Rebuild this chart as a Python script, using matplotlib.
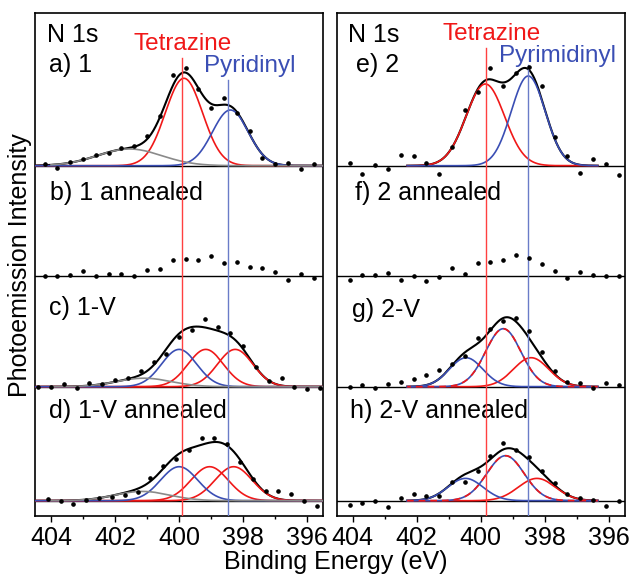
import numpy as np
import matplotlib.pyplot as plt

plt.rcParams['font.family'] = ['Liberation Sans', 'DejaVu Sans']

# binding energy grids of the measured points (eV)
be_ab = [404.2, 403.8, 403.4, 403.0, 402.6, 402.2, 401.8, 401.4, 401.0, 400.6, 400.2,
         399.8, 399.4, 399.0, 398.6, 398.2, 397.8, 397.4, 397.0, 396.6, 396.2, 395.8]
be_c = [404.4, 404.0, 403.6, 403.2, 402.8, 402.4, 402.0, 401.6, 401.2, 400.8, 400.4, 400.0,
        399.6, 399.2, 398.8, 398.4, 398.0, 397.6, 397.2, 396.8, 396.4, 396.0, 395.6]
be_rest = [404.1, 403.7, 403.3, 402.9, 402.5, 402.1, 401.7, 401.3, 400.9, 400.5, 400.1,
           399.7, 399.3, 398.9, 398.5, 398.1, 397.7, 397.3, 396.9, 396.5, 396.1, 395.7]

# measured intensities (arb. units, baseline subtracted)
int_a = [0.017, -0.02, 0.033, 0.067, 0.103, 0.13, 0.18, 0.197, 0.30, 0.50, 0.907,
         0.973, 0.77, 0.573, 0.68, 0.53, 0.347, 0.073, 0.02, 0.023, -0.037, 0.017]
int_b = [0.0, -0.007, 0.007, 0.05, -0.007, 0.013, 0.013, -0.007, 0.06, 0.067, 0.16,
         0.167, 0.16, 0.197, 0.123, 0.14, 0.083, 0.073, 0.033, -0.04, 0.013, -0.027]
int_c = [0.0, 0.0, 0.023, -0.01, 0.04, 0.023, 0.067, 0.09, 0.157, 0.25, 0.323, 0.5,
         0.567, 0.68, 0.6, 0.54, 0.41, 0.2, 0.06, 0.087, 0.0, -0.02, -0.01]
int_d = [0.02, -0.005, -0.037, 0.01, 0.03, 0.033, 0.053, 0.09, 0.228, 0.35, 0.42,
         0.51, 0.63, 0.63, 0.57, 0.39, 0.217, 0.093, 0.1, 0.067, 0.0, -0.05]
int_e = [0.03, -0.083, 0.007, -0.033, 0.107, 0.093, 0.023, -0.083, 0.19, 0.557, 0.733,
         0.973, 0.797, 0.93, 0.99, 0.8, 0.29, 0.097, -0.077, 0.07, 0.017, -0.093]
int_f = [-0.04, 0.003, 0.003, 0.03, -0.047, -0.007, -0.053, -0.013, 0.08, 0.02, 0.127,
         0.133, 0.153, 0.203, 0.18, 0.12, 0.043, -0.023, 0.037, 0.01, 0.0, 0.0]
int_g = [-0.005, 0.015, -0.01, 0.03, 0.048, 0.073, 0.113, 0.165, 0.23, 0.31, 0.485,
         0.58, 0.657, 0.69, 0.557, 0.347, 0.157, 0.047, 0.033, -0.01, 0.04, 0.017]
int_h = [-0.04, -0.027, -0.007, -0.067, 0.023, 0.067, 0.05, 0.043, 0.183, 0.183, 0.3,
         0.443, 0.573, 0.507, 0.433, 0.293, 0.18, 0.067, 0.027, 0.01, -0.057, 0.0]

# fitted components: (centre eV, height, sigma eV)
peaks_a = [(399.85, 0.874, 0.58), (398.4, 0.557, 0.56), (401.55, 0.167, 1.0)]
kinds_a = ['tz', 'py', 'other']
peaks_c = [(399.17, 0.373, 0.55), (398.25, 0.373, 0.55), (400.0, 0.373, 0.55), (401.1, 0.085, 0.85)]
kinds_c = ['tz', 'tz', 'py', 'other']
peaks_d = [(399.05, 0.34, 0.58), (398.3, 0.34, 0.58), (400.0, 0.34, 0.58), (401.15, 0.093, 0.85)]
kinds_d = ['tz', 'tz', 'py', 'other']
peaks_e = [(399.86, 0.817, 0.6), (398.52, 0.897, 0.53)]
kinds_e = ['tz', 'py']
peaks_g = [(398.43, 0.29, 0.55), (400.46, 0.29, 0.52), (399.3, 0.58, 0.55)]
kinds_g = ['tz', 'py', 'both']
peaks_h = [(398.25, 0.223, 0.58), (400.48, 0.223, 0.55), (399.23, 0.45, 0.58)]
kinds_h = ['tz', 'py', 'both']

# energy window of the fits
fit_left = (395.3, 404.7)
fit_right = (396.35, 402.3)
gray_left = (395.3, 404.0)

offsets = [3.35, 2.25, 1.14, 0.0]

RED = '#f01818'
BLUE = '#3a4eb4'
GRAY = '#8a8a8a'


def gauss(x, c, h, s):
    return h * np.exp(-(x - c) ** 2 / (2 * s * s))


def draw_panel(ax, off, be, inten, peaks=None, kinds=None, window=None):
    ax.axhline(off, color='k', lw=1.0, zorder=1)
    if peaks:
        xf = np.linspace(window[0], window[1], 700)
        total = np.zeros_like(xf)
        for (c, h, s) in peaks:
            total += gauss(xf, c, h, s)
        ax.plot(xf, total + off, color='k', lw=1.5, zorder=2)
        for (c, h, s), k in zip(peaks, kinds):
            y = gauss(xf, c, h, s) + off
            if k == 'other':
                xg = np.linspace(gray_left[0], gray_left[1], 700)
                ax.plot(xg, gauss(xg, c, h, s) + off, color=GRAY, lw=1.2, zorder=3)
            elif k == 'tz':
                ax.plot(xf, y, color=RED, lw=1.2, zorder=3)
            elif k == 'py':
                ax.plot(xf, y, color=BLUE, lw=1.2, zorder=3)
            else:
                ax.plot(xf, y, color=BLUE, lw=1.2, zorder=3)
                ax.plot(xf, y, color=RED, lw=1.2, zorder=3, dashes=(4, 3))
    ax.plot(be, np.array(inten) + off, 'o', color='k', ms=2.3, zorder=5)


fig = plt.figure(figsize=(6.29, 5.75), dpi=100)
axL = fig.add_axes([35 / 629, 59 / 575, 288.3 / 629, 503.3 / 575])
axR = fig.add_axes([336.7 / 629, 59 / 575, 288.3 / 629, 503.3 / 575])

draw_panel(axL, offsets[0], be_ab, int_a, peaks_a, kinds_a, fit_left)
draw_panel(axL, offsets[1], be_ab, int_b)
draw_panel(axL, offsets[2], be_c, int_c, peaks_c, kinds_c, fit_left)
draw_panel(axL, offsets[3], be_rest, int_d, peaks_d, kinds_d, fit_left)

draw_panel(axR, offsets[0], be_rest, int_e, peaks_e, kinds_e, fit_right)
draw_panel(axR, offsets[1], be_rest, int_f)
draw_panel(axR, offsets[2], be_rest, int_g, peaks_g, kinds_g, fit_right)
draw_panel(axR, offsets[3], be_rest, int_h, peaks_h, kinds_h, fit_right)

# reference lines
axL.axvline(399.9, ymin=0, ymax=0.91, color='#ff4040', lw=1.0, zorder=4)
axL.axvline(398.48, ymin=0, ymax=0.866, color='#6a7cc8', lw=1.0, zorder=4)
axR.axvline(399.85, ymin=0, ymax=0.93, color='#ff4040', lw=1.0, zorder=4)
axR.axvline(398.52, ymin=0, ymax=0.896, color='#6a7cc8', lw=1.0, zorder=4)

for ax in (axL, axR):
    ax.set_xlim(404.5, 395.5)
    ax.set_ylim(-0.153, 4.88)
    ax.set_yticks([])
    ax.set_xticks([404, 402, 400, 398, 396])
    ax.set_xticks([403, 401, 399, 397], minor=True)
    ax.tick_params(axis='x', which='major', direction='out', length=4.5, width=1.0,
                   labelsize=18, pad=3)
    ax.tick_params(axis='x', which='minor', direction='out', length=2.5, width=1.0)
    for sp in ax.spines.values():
        sp.set_linewidth(1.2)

fs = 18
t = dict(va='baseline', ha='left', fontsize=fs)
axL.text(0.041, 0.9424, 'N 1s', transform=axL.transAxes, **t)
axL.text(0.048, 0.8828, 'a) 1', transform=axL.transAxes, **t)
axL.text(0.052, 0.6279, 'b) 1 annealed', transform=axL.transAxes, **t)
axL.text(0.048, 0.3994, 'c) 1-V', transform=axL.transAxes, **t)
axL.text(0.048, 0.1941, 'd) 1-V annealed', transform=axL.transAxes, **t)
axL.text(0.513, 0.9259, 'Tetrazine', transform=axL.transAxes, ha='center',
         va='baseline', fontsize=17.5, color=RED)
axL.text(0.746, 0.8828, 'Pyridinyl', transform=axL.transAxes, ha='center',
         va='baseline', fontsize=17.5, color=BLUE)

axR.text(0.040, 0.9424, 'N 1s', transform=axR.transAxes, **t)
axR.text(0.067, 0.8828, 'e) 2', transform=axR.transAxes, **t)
axR.text(0.063, 0.6279, 'f) 2 annealed', transform=axR.transAxes, **t)
axR.text(0.052, 0.396, 'g) 2-V', transform=axR.transAxes, **t)
axR.text(0.046, 0.1941, 'h) 2-V annealed', transform=axR.transAxes, **t)
axR.text(0.539, 0.9458, 'Tetrazine', transform=axR.transAxes, ha='center',
         va='baseline', fontsize=17.5, color=RED)
axR.text(0.766, 0.9026, 'Pyrimidinyl', transform=axR.transAxes, ha='center',
         va='baseline', fontsize=17.5, color=BLUE)

fig.text(20 / 629, 1 - 265 / 575, 'Photoemission Intensity', rotation=90,
         ha='center', va='center', fontsize=18)
fig.text(336 / 629, 6 / 575, 'Binding Energy (eV)', ha='center', va='baseline',
         fontsize=18)

fig.savefig('out.png', dpi=100)
